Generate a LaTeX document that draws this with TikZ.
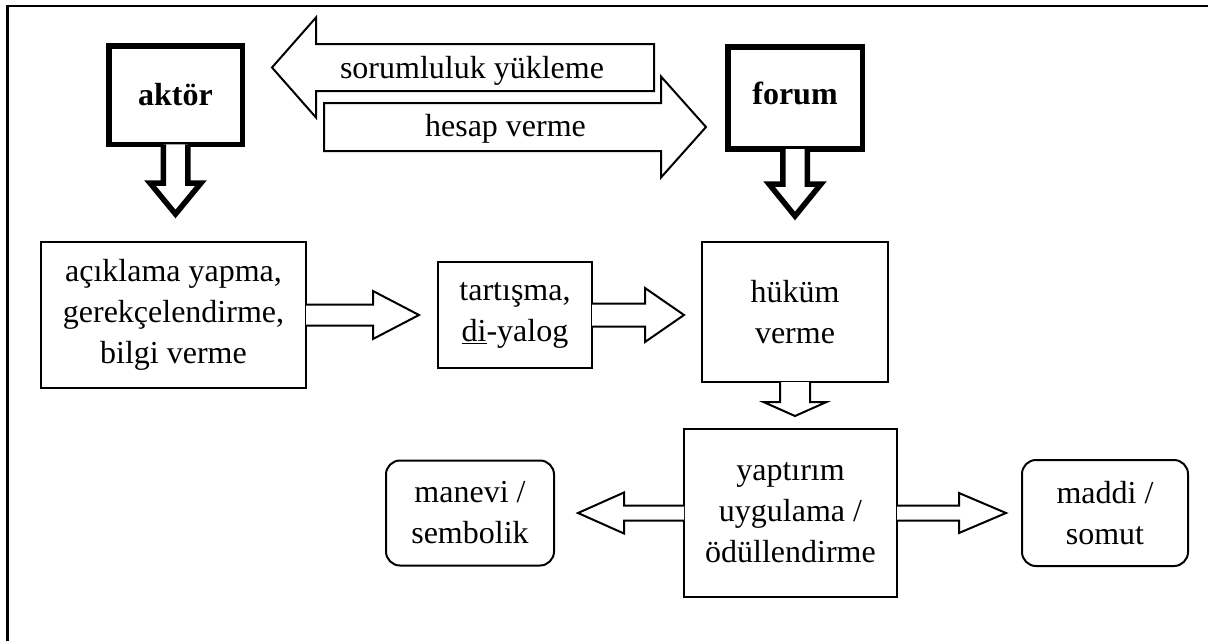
\documentclass[tikz,border=0pt]{standalone}
\usepackage{fontspec}
\setmainfont{Liberation Serif}
\usetikzlibrary{positioning,calc}

\tikzset{
  ba shaft/.store in=\bashaft, ba head/.store in=\bahead,
  ba len/.store in=\balen, ba gap/.store in=\bagap, ba inset/.store in=\bainset,
  ba shaft=10pt, ba head=24pt, ba len=45pt, ba gap=15pt, ba inset=1pt
}

\begin{document}
\begin{tikzpicture}[
    x=1pt, y=-1pt,
    box/.style={
      rectangle, draw, line width=2pt, inner sep=0pt, align=center,
      font=\fontsize{32}{41}\selectfont
    },
    party/.style={box, line width=5.5pt, font=\fontsize{32}{41}\selectfont\bfseries},
    soft/.style={box, rounded corners=14pt},
    arrowtext/.style={font=\fontsize{32}{41}\selectfont, inner sep=0pt},
    blockarrow/.style={
      draw, fill=white, line width=2pt,
      to path={
        ($(\tikztostart)!-\bainset!(\tikztotarget)$) coordinate (ba-s)
        ($(\tikztotarget)!\bagap!(\tikztostart)$) coordinate (ba-t)
        ($(ba-t)!\balen!(ba-s)$) coordinate (ba-b)
        ($(ba-s)!\bashaft!90:(ba-t)$) -- ($(ba-b)!\bashaft!-90:(ba-s)$)
        -- ($(ba-b)!\bahead!-90:(ba-s)$) -- (ba-t)
        -- ($(ba-b)!\bahead!90:(ba-s)$) -- ($(ba-b)!\bashaft!90:(ba-s)$)
        -- ($(ba-s)!\bashaft!-90:(ba-t)$)
      }
    }
  ]
    \useasboundingbox (0,0) rectangle (1208,641);
    \draw[line width=2.5pt] (7.5,641) -- (7.5,6) -- (1208,6);

    \node[party, minimum width=133.5pt, minimum height=98.5pt] (aktor) at (175.5,95) {aktör};
    \node[party, minimum width=134.5pt, minimum height=102pt, text depth=10pt] (forum) at (795,98) {forum};

    \node[box, minimum width=265pt, minimum height=146pt] (acik) at (173.5,315) {açıklama yapma,\\gerekçelendirme,\\bilgi verme};
    \node[box, minimum width=154pt, minimum height=106pt, right=130pt of acik] (tart) {tartışma,\\\underline{di}-yalog};
    \node[box, minimum width=186pt, minimum height=140pt] (hukum) at (795,312) {hüküm\\verme};
    \node[box, minimum width=213pt, minimum height=168pt] (yapt) at (790.5,513) {yaptırım\\uygulama /\\ödüllendirme};
    \node[soft, minimum width=168pt, minimum height=105pt, left=128pt of yapt] (manevi) {manevi /\\sembolik};
    \node[soft, minimum width=166pt, minimum height=106pt, right=123pt of yapt] (maddi) {maddi /\\somut};

    \draw[blockarrow, line width=5.5pt, ba inset=2.75pt, ba shaft=12.25pt, ba head=25.5pt, ba len=31pt, ba gap=27pt] (aktor.south) to (aktor.south |- acik.north);
    \draw[blockarrow, line width=5.5pt, ba inset=2.75pt, ba shaft=12.25pt, ba head=26pt, ba len=32pt, ba gap=25pt] (forum.south) to (forum.south |- hukum.north);
    \draw[blockarrow, ba shaft=10.5pt, ba head=24pt, ba len=46pt, ba gap=18pt] (acik.east) to (tart.west);
    \draw[blockarrow, ba shaft=11.5pt, ba head=27pt, ba len=39pt, ba gap=17pt] (tart.east) to (hukum.west |- tart.east);
    \draw[blockarrow, ba shaft=15pt, ba head=31.5pt, ba len=14pt, ba gap=12pt] (hukum.south) to (hukum.south |- yapt.north);
    \draw[blockarrow, ba shaft=7.5pt, ba head=20.5pt, ba len=46pt, ba gap=23pt] (yapt.west) to (manevi.east);
    \draw[blockarrow, ba shaft=7.5pt, ba head=20pt, ba len=47pt, ba gap=15pt] (yapt.east) to (maddi.west);

    \coordinate (sorEnd) at (654,67.5);
    \coordinate (sorTip) at (272,67.5);
    \coordinate (hesStart) at (324,127);
    \coordinate (hesTip) at (706,127);
    \draw[blockarrow, ba inset=0pt, ba gap=0pt, ba shaft=23.5pt, ba head=50pt, ba len=44pt] (sorEnd) to (sorTip) -- cycle;
    \draw[blockarrow, ba inset=0pt, ba gap=0pt, ba shaft=24pt, ba head=50.5pt, ba len=45pt] (hesStart) to (hesTip) -- cycle;
    \node[arrowtext] (sorum) at (472,71) {sorumluluk yükleme};
    \node[arrowtext] (hesap) at (505.5,129) {hesap verme};
  \end{tikzpicture}
\end{document}
